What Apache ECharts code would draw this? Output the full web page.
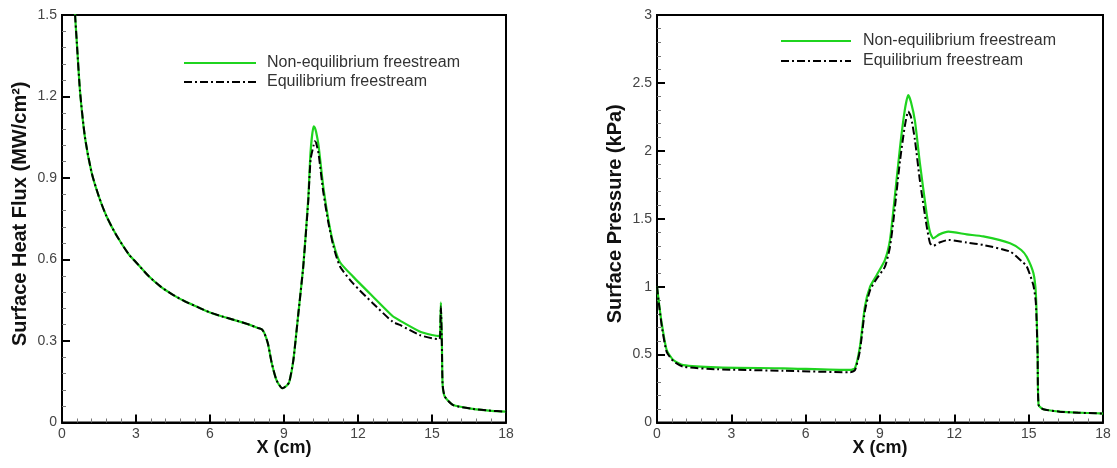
<!DOCTYPE html>
<html>
<head>
<meta charset="utf-8">
<script src="https://cdn.jsdelivr.net/npm/echarts@6/dist/echarts.min.js"></script>
<style>
  html, body { margin: 0; padding: 0; background: #fff; }
  #show { width: 1117px; height: 468px; }
</style>
</head>
<body>
<div id="show"></div>
<script>
var myChart = echarts.init(document.getElementById("show"));

// left panel: surface heat flux (MW/cm2)
var heatX = [0.5, 0.53, 0.6, 0.73, 0.93, 1.2, 1.5, 1.8, 2.2, 2.7, 3.0, 3.5, 4.0, 4.5, 5.0, 5.5, 6.0, 6.5, 7.0, 7.5,
    7.95, 8.1, 8.2, 8.35, 8.5, 8.7, 8.93, 9.1, 9.21, 9.38, 9.58, 9.78, 9.98, 10.08, 10.2, 10.25, 10.3, 10.4, 10.59, 10.8,
    11.0, 11.27, 11.8, 12.6, 13.4, 13.7, 14.5, 15.0, 15.3, 15.33, 15.36, 15.4, 15.43, 15.52, 15.86, 16.67, 17.3, 18.0];
var heatNonEq = [1.56, 1.50, 1.40, 1.22, 1.05, 0.92, 0.83, 0.76, 0.69, 0.62, 0.59, 0.54, 0.50, 0.47, 0.445, 0.425, 0.405, 0.39, 0.377, 0.363,
    0.348, 0.343, 0.33, 0.29, 0.22, 0.155, 0.126, 0.135, 0.148, 0.23, 0.40, 0.574, 0.82, 1.00, 1.09, 1.085, 1.07, 1.02, 0.869, 0.746,
    0.66, 0.59, 0.537, 0.464, 0.392, 0.375, 0.335, 0.322, 0.318, 0.33, 0.442, 0.30, 0.14, 0.095, 0.064, 0.05, 0.044, 0.04];
var heatEq = [1.56, 1.50, 1.40, 1.22, 1.05, 0.92, 0.83, 0.76, 0.69, 0.62, 0.59, 0.54, 0.50, 0.47, 0.445, 0.425, 0.405, 0.39, 0.377, 0.363,
    0.348, 0.343, 0.33, 0.29, 0.22, 0.155, 0.126, 0.135, 0.148, 0.23, 0.40, 0.574, 0.81, 0.97, 1.02, 1.035, 1.03, 0.99, 0.85, 0.735,
    0.65, 0.574, 0.512, 0.439, 0.371, 0.359, 0.322, 0.31, 0.307, 0.32, 0.427, 0.29, 0.14, 0.095, 0.064, 0.05, 0.044, 0.04];

// right panel: surface pressure (kPa)
var presX = [0, 0.1, 0.2, 0.39, 0.66, 1.06, 2.41, 5.1, 7.8, 7.99, 8.19, 8.39, 8.6, 8.87, 9.2, 9.4, 9.55, 9.81, 10.0, 10.14,
    10.25, 10.41, 10.61, 10.88, 11.02, 11.15, 11.4, 11.76, 12.5, 13.17, 14.25, 14.7, 14.92, 15.19, 15.29, 15.36, 15.4, 15.59, 16.26, 17.0,
    17.74, 18.0];
var presNonEq = [1.0, 0.85, 0.72, 0.534, 0.46, 0.423, 0.406, 0.399, 0.387, 0.40, 0.558, 0.853, 1.0, 1.086, 1.197, 1.34, 1.58, 2.03, 2.30, 2.41,
    2.36, 2.22, 1.91, 1.54, 1.40, 1.356, 1.385, 1.405, 1.385, 1.37, 1.32, 1.27, 1.22, 1.10, 0.95, 0.53, 0.13, 0.097, 0.08, 0.072,
    0.068, 0.066];
var presEq = [1.0, 0.84, 0.70, 0.52, 0.452, 0.411, 0.392, 0.381, 0.37, 0.385, 0.53, 0.82, 0.975, 1.06, 1.147, 1.29, 1.50, 1.93, 2.18, 2.29,
    2.25, 2.08, 1.78, 1.45, 1.32, 1.30, 1.325, 1.344, 1.325, 1.307, 1.258, 1.19, 1.15, 1.01, 0.88, 0.5, 0.13, 0.097, 0.08, 0.072,
    0.068, 0.066];

var names = ['Non-equilibrium freestream', 'Equilibrium freestream'];
var xTitle = 'X (cm)';
var yTitles = ['Surface Heat Flux (MW/cm²)', 'Surface Pressure (kPa)'];

function zip(xs, ys) {
    return xs.map(function (x, i) { return [x, ys[i]]; });
}

var font = 'Arial, "Liberation Sans", sans-serif';
var green = '#1fd41f';

function xAxisFor(idx) {
    return {
        gridIndex: idx, type: 'value', min: 0, max: 18, interval: 3,
        name: xTitle, nameLocation: 'middle', nameGap: 17, nameMoveOverlap: false,
        nameTextStyle: { fontFamily: font, fontSize: 18, fontWeight: 'bold', color: '#111' },
        axisLine: { lineStyle: { color: '#000', width: 2 } },
        axisTick: { inside: true, length: 8, lineStyle: { color: '#000', width: 2 } },
        minorTick: { show: true, splitNumber: 5, length: 4, lineStyle: { color: '#777', width: 1 } },
        axisLabel: { fontFamily: font, fontSize: 14, color: '#444', margin: 5 },
        splitLine: { show: false }
    };
}

function yAxisFor(idx, max, step) {
    return {
        gridIndex: idx, type: 'value', min: 0, max: max, interval: step,
        name: yTitles[idx], nameLocation: 'middle', nameGap: 32, nameMoveOverlap: false,
        nameTextStyle: { fontFamily: font, fontSize: 20, fontWeight: 'bold', color: '#111', padding: [0, 0, 0, 10] },
        axisLine: { lineStyle: { color: '#000', width: 2 } },
        axisTick: { inside: true, length: 8, lineStyle: { color: '#000', width: 2 } },
        minorTick: { show: true, splitNumber: 5, length: 4, lineStyle: { color: '#777', width: 1 } },
        axisLabel: { fontFamily: font, fontSize: 14, color: '#444', margin: 5 },
        splitLine: { show: false }
    };
}

function lineSeries(idx, name, data, eq) {
    return {
        type: 'line', name: name, xAxisIndex: idx, yAxisIndex: idx,
        data: data, showSymbol: false, symbol: 'none', smooth: 0.2,
        z: eq ? 3 : 2,
        lineStyle: eq ? { color: '#000', width: 2, type: [8, 3, 2, 3] } : { color: green, width: 2.2 },
        itemStyle: { color: eq ? '#000' : green }
    };
}

function legendFor(left, top, width, gap, textGap) {
    return {
        data: names.map(function (n) { return { name: n }; }),
        orient: 'vertical', left: left, top: top, padding: 0,
        itemWidth: width, itemHeight: 14, itemGap: gap,
        selectedMode: false,
        itemStyle: { opacity: 0 },
        textStyle: { fontFamily: font, fontSize: 16, color: '#333', padding: [0, 0, 0, textGap] }
    };
}

myChart.setOption({
    animation: false,
    backgroundColor: '#fff',
    legend: [
        legendFor(183, 55, 72, 3, 6),
        legendFor(780, 33, 70, 4, 7)
    ],
    grid: [
        { left: 62, top: 15, width: 444, height: 407.5, show: true, borderColor: '#000', borderWidth: 2, backgroundColor: 'transparent' },
        { left: 657, top: 15, width: 446, height: 407.5, show: true, borderColor: '#000', borderWidth: 2, backgroundColor: 'transparent' }
    ],
    xAxis: [xAxisFor(0), xAxisFor(1)],
    yAxis: [yAxisFor(0, 1.5, 0.3), yAxisFor(1, 3, 0.5)],
    series: [
        lineSeries(0, names[0], zip(heatX, heatNonEq), false),
        lineSeries(0, names[1], zip(heatX, heatEq), true),
        lineSeries(1, names[0], zip(presX, presNonEq), false),
        lineSeries(1, names[1], zip(presX, presEq), true)
    ]
});
</script>
</body>
</html>
